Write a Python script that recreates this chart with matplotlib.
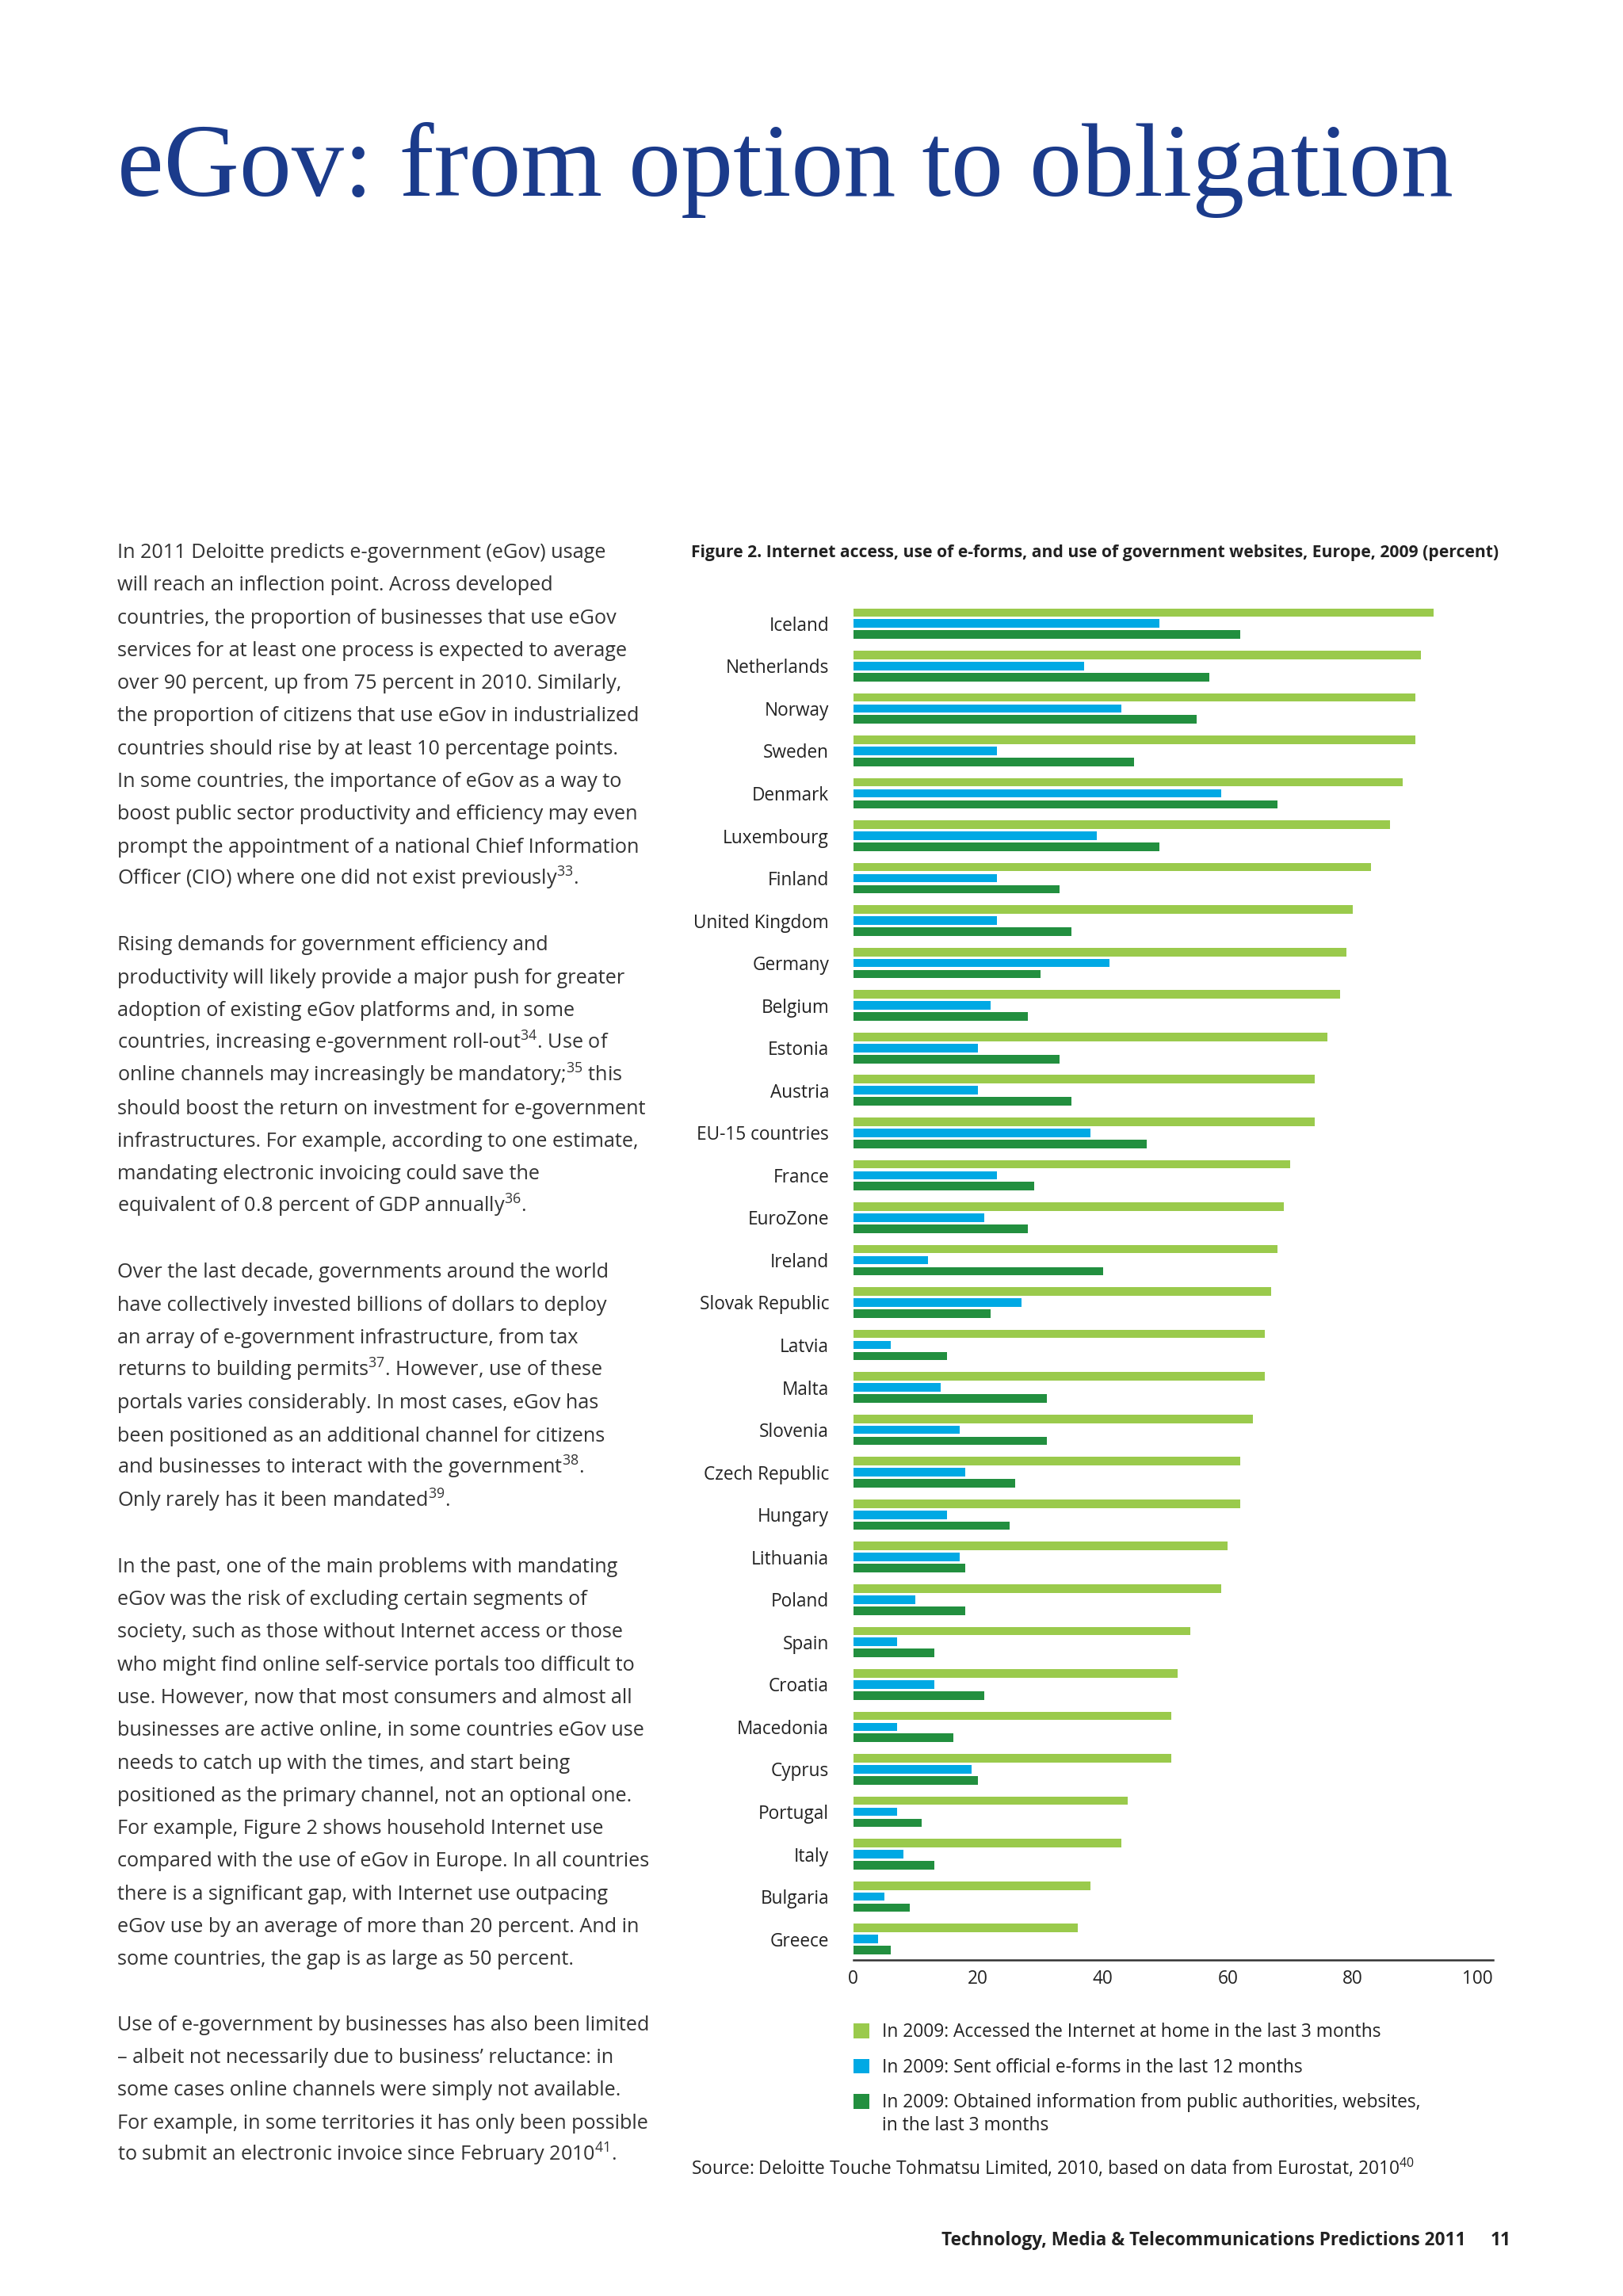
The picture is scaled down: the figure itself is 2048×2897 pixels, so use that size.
import matplotlib
matplotlib.use("Agg")
import matplotlib.pyplot as plt
import numpy as np

# data (percent)
countries = ["Iceland", "Netherlands", "Norway", "Sweden", "Denmark", "Luxembourg",
             "Finland", "United Kingdom", "Germany", "Belgium", "Estonia", "Austria",
             "EU-15 countries", "France", "EuroZone", "Ireland", "Slovak Republic",
             "Latvia", "Malta", "Slovenia", "Czech Republic", "Hungary", "Lithuania",
             "Poland", "Spain", "Croatia", "Macedonia", "Cyprus", "Portugal", "Italy",
             "Bulgaria", "Greece"]
internet_home = [93, 91, 90, 90, 88, 86, 83, 80, 79, 78, 76, 74, 74, 70, 69, 68, 67,
                 66, 66, 64, 62, 62, 60, 59, 54, 52, 51, 51, 44, 43, 38, 36]
eforms_sent = [49, 37, 43, 23, 59, 39, 23, 23, 41, 22, 20, 20, 38, 23, 21, 12, 27,
               6, 14, 17, 18, 15, 17, 10, 7, 13, 7, 19, 7, 8, 5, 4]
gov_info = [62, 57, 55, 45, 68, 49, 33, 35, 30, 28, 33, 35, 47, 29, 28, 40, 22,
            15, 31, 31, 26, 25, 18, 18, 13, 21, 16, 20, 11, 13, 9, 6]
xticks = [0, 20, 40, 60, 80, 100]
legend_labels = ["In 2009: Accessed the Internet at home in the last 3 months",
                 "In 2009: Sent official e-forms in the last 12 months",
                 "In 2009: Obtained information from public authorities, websites,"]

LIGHT = "#9aca4c"
BLUE = "#00a9e4"
DARK = "#228f3f"
TEXT = "#333333"
NAVY = "#1b3b8b"

plt.rcParams["font.family"] = ["Open Sans", "DejaVu Sans"]
plt.rcParams["mathtext.fontset"] = "custom"
plt.rcParams["mathtext.rm"] = "Open Sans"

body = [
    "In 2011 Deloitte predicts e-government (eGov) usage",
    "will reach an inflection point. Across developed",
    "countries, the proportion of businesses that use eGov",
    "services for at least one process is expected to average",
    "over 90 percent, up from 75 percent in 2010. Similarly,",
    "the proportion of citizens that use eGov in industrialized",
    "countries should rise by at least 10 percentage points.",
    "In some countries, the importance of eGov as a way to",
    "boost public sector productivity and efficiency may even",
    "prompt the appointment of a national Chief Information",
    r"Officer (CIO) where one did not exist previously$^{\mathrm{33}}$.",
    "",
    "Rising demands for government efficiency and",
    "productivity will likely provide a major push for greater",
    "adoption of existing eGov platforms and, in some",
    r"countries, increasing e-government roll-out$^{\mathrm{34}}$. Use of",
    r"online channels may increasingly be mandatory;$^{\mathrm{35}}$ this",
    "should boost the return on investment for e-government",
    "infrastructures. For example, according to one estimate,",
    "mandating electronic invoicing could save the",
    r"equivalent of 0.8 percent of GDP annually$^{\mathrm{36}}$.",
    "",
    "Over the last decade, governments around the world",
    "have collectively invested billions of dollars to deploy",
    "an array of e-government infrastructure, from tax",
    r"returns to building permits$^{\mathrm{37}}$. However, use of these",
    "portals varies considerably. In most cases, eGov has",
    "been positioned as an additional channel for citizens",
    r"and businesses to interact with the government$^{\mathrm{38}}$.",
    r"Only rarely has it been mandated$^{\mathrm{39}}$.",
    "",
    "In the past, one of the main problems with mandating",
    "eGov was the risk of excluding certain segments of",
    "society, such as those without Internet access or those",
    "who might find online self-service portals too difficult to",
    "use. However, now that most consumers and almost all",
    "businesses are active online, in some countries eGov use",
    "needs to catch up with the times, and start being",
    "positioned as the primary channel, not an optional one.",
    "For example, Figure 2 shows household Internet use",
    "compared with the use of eGov in Europe. In all countries",
    "there is a significant gap, with Internet use outpacing",
    "eGov use by an average of more than 20 percent. And in",
    "some countries, the gap is as large as 50 percent.",
    "",
    "Use of e-government by businesses has also been limited",
    "\u2013 albeit not necessarily due to business\u2019 reluctance: in",
    "some cases online channels were simply not available.",
    "For example, in some territories it has only been possible",
    r"to submit an electronic invoice since February 2010$^{\mathrm{41}}$.",
]

fig = plt.figure(figsize=(20.48, 28.97), dpi=100)

# page title
fig.text(0.0725, 0.9148, "eGov: from option to obligation", fontsize=95,
         family=["Liberation Serif", "DejaVu Serif"], color=NAVY, va="baseline")

# left column text, one line per row of a fixed grid
for i, line in enumerate(body):
    if line:
        fig.text(0.0725, 1 - (379.6 + 22.26 * i) / 1562, line, fontsize=18.2,
                 color=TEXT, va="baseline")

# figure caption
fig.text(0.4257, 1 - 376 / 1562,
         "Figure 2. Internet access, use of e-forms, and use of government websites, Europe, 2009 (percent)",
         fontsize=15.2, weight="bold", color="#222222", va="center")

ax = fig.add_axes([0.5257, 0.1464, 0.3942, 0.5931])
y = np.arange(len(countries))
step, h = 0.26, 0.2
b1 = ax.barh(y - step, internet_home, height=h, color=LIGHT, label=legend_labels[0])
b2 = ax.barh(y, eforms_sent, height=h, color=BLUE, label=legend_labels[1])
b3 = ax.barh(y + step, gov_info, height=h, color=DARK, label=legend_labels[2])

ax.set_xlim(0, 102.5)
ax.set_ylim(len(countries) - 0.51, -0.6)
ax.set_yticks(y)
ax.set_yticklabels(countries, fontsize=16.3, color="#222222")
ax.set_xticks(xticks)
ax.set_xticklabels([str(t) for t in xticks], fontsize=16.3, color="#222222")
ax.tick_params(axis="y", length=0, pad=22)
ax.tick_params(axis="x", length=0, pad=9)
for s in ["top", "right", "left"]:
    ax.spines[s].set_visible(False)
ax.spines["bottom"].set_color("#333333")
ax.spines["bottom"].set_linewidth(1.8)

leg = fig.legend(handles=[b1, b2, b3], loc="upper left",
                 bbox_to_anchor=(0.5257, 0.1190), frameon=False, fontsize=16.4,
                 borderpad=0, borderaxespad=0, handlelength=0.88, handleheight=0.88,
                 handletextpad=0.7, labelspacing=0.9)
for t in leg.get_texts():
    t.set_color("#222222")
fig.text(0.5435, 1 - 1446 / 1562, "in the last 3 months", fontsize=16.4,
         color="#222222", va="center")

fig.text(0.4257, 1 - 1479.5 / 1562,
         r"Source: Deloitte Touche Tohmatsu Limited, 2010, based on data from Eurostat, 2010$^{\mathrm{40}}$",
         fontsize=16.4, color="#222222", va="baseline")

# page footer
fig.text(0.903, 1 - 1524 / 1562,
         "Technology, Media & Telecommunications Predictions 2011",
         fontsize=16.3, weight="bold", color="#222222", va="center", ha="right")
fig.text(0.931, 1 - 1524 / 1562, "11", fontsize=16.3, weight="bold",
         color="#222222", va="center", ha="right")

fig.savefig("out.png", dpi=100)
